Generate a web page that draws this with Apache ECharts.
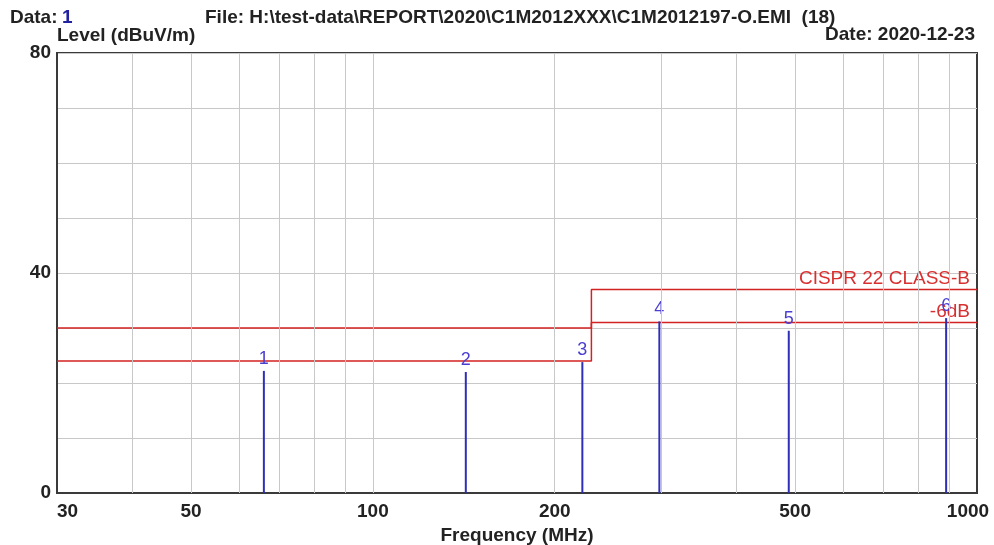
<!DOCTYPE html>
<html>
<head>
<meta charset="utf-8">
<script src="https://cdn.jsdelivr.net/npm/echarts@6/dist/echarts.min.js"></script>
<style>
html, body { margin: 0; padding: 0; background: #fff; }
#main { width: 994px; height: 545px; }
</style>
</head>
<body>
<div id="main"></div>
<script>
// peak markers
var peakFreqs = [66.0, 142.5, 222.2, 298.0, 488.0, 889.0];
var peakLevels = [22.2, 22.0, 23.8, 31.2, 29.5, 31.8];
var peakNames = ['1', '2', '3', '4', '5', '6'];

// CISPR 22 class B limit and the -6dB margin
var limitFreqs = [30, 230, 230, 1000];
var limitLevels = [30, 30, 37, 37];
var marginLevels = [24, 24, 31, 31];

var xTickLabels = [30, 50, 100, 200, 500, 1000];
var xGridFreqs = [40, 50, 60, 70, 80, 90, 100, 200, 300, 400, 500, 600, 700, 800, 900];

var FONT = '"Liberation Sans", Arial, sans-serif';
var textDark = '#222';
var red = '#d42222';
var blue = '#2e2eb8';
var headFont = 'bold 19px ' + FONT;

var myChart = echarts.init(document.getElementById('main'), null, { renderer: 'canvas' });

function limitData(levels, labelText) {
    return limitFreqs.map(function (f, i) {
        var item = { value: [f, levels[i]] };
        if (i === limitFreqs.length - 1) {
            // only the last point carries the text, its symbol stays invisible
            item.symbol = 'circle';
            item.symbolSize = 1;
            item.itemStyle = { color: 'rgba(0,0,0,0)', borderWidth: 0 };
            item.label = {
                show: true,
                formatter: labelText,
                position: 'top',
                align: 'right',
                distance: 1,
                offset: [-7, 0],
                color: '#d83030',
                fontSize: 19,
                fontFamily: FONT
            };
        }
        return item;
    });
}

var option = {
    animation: false,
    backgroundColor: '#fff',
    textStyle: { fontFamily: FONT },
    grid: {
        left: 57, right: 17, top: 53, bottom: 52,
        outerBoundsMode: 'none',
        containLabel: false,
        show: true,
        borderColor: '#3a3a3a',
        borderWidth: 2
    },
    graphic: [
        { type: 'text', left: 10, top: 8, style: { text: 'Data:', font: headFont, fill: textDark } },
        { type: 'text', left: 62, top: 8, style: { text: '1', font: headFont, fill: '#2020a0' } },
        { type: 'text', left: 205, top: 8, style: { text: 'File: H:\\test-data\\REPORT\\2020\\C1M2012XXX\\C1M2012197-O.EMI  (18)', font: headFont, fill: textDark } },
        { type: 'text', left: 57, top: 26, style: { text: 'Level (dBuV/m)', font: headFont, fill: textDark } },
        { type: 'text', right: 19, top: 25, style: { text: 'Date: 2020-12-23', font: headFont, fill: textDark } }
    ],
    xAxis: {
        type: 'log',
        logBase: 10,
        min: 30,
        max: 1000,
        name: 'Frequency (MHz)',
        nameLocation: 'middle',
        nameGap: 28,
        nameTextStyle: { color: textDark, fontSize: 19, fontWeight: 'bold', fontFamily: FONT },
        axisLine: { show: true, lineStyle: { color: '#3a3a3a', width: 2 } },
        axisTick: { show: false },
        splitLine: { show: false },
        axisLabel: {
            customValues: xTickLabels,
            color: textDark,
            fontSize: 19,
            fontWeight: 'bold',
            fontFamily: FONT,
            margin: 9,
            alignMinLabel: 'left',
            showMinLabel: true,
            showMaxLabel: true,
            formatter: function (v) {
                var s = String(Math.round(v));
                return Math.round(v) === 1000 ? '{m|' + s + '}' : s;
            },
            rich: {
                m: { padding: [0, 18, 0, 0], fontSize: 19, fontWeight: 'bold', color: textDark, fontFamily: FONT }
            }
        }
    },
    yAxis: {
        type: 'value',
        min: 0,
        max: 80,
        interval: 10,
        axisLine: { show: true, lineStyle: { color: '#3a3a3a', width: 2 } },
        axisTick: { show: false },
        splitLine: { show: true, lineStyle: { color: '#c8c8c8', width: 1 } },
        axisLabel: {
            color: textDark,
            fontSize: 19,
            fontWeight: 'bold',
            fontFamily: FONT,
            margin: 6,
            formatter: function (v) { return v % 40 === 0 ? String(v) : ''; }
        }
    },
    series: [
        {
            // vertical grid lines of the log axis
            type: 'line',
            data: [],
            silent: true,
            markLine: {
                silent: true,
                symbol: 'none',
                label: { show: false },
                lineStyle: { color: '#c8c8c8', width: 1, type: 'solid' },
                data: xGridFreqs.map(function (f) { return { xAxis: f }; })
            }
        },
        {
            name: 'CISPR 22 CLASS-B',
            type: 'line',
            symbol: 'none',
            lineStyle: { color: red, width: 1.5 },
            data: limitData(limitLevels, 'CISPR 22 CLASS-B'),
            z: 3
        },
        {
            name: '-6dB',
            type: 'line',
            symbol: 'none',
            lineStyle: { color: red, width: 1.5 },
            data: limitData(marginLevels, '-6dB'),
            z: 3
        },
        {
            type: 'custom',
            data: peakFreqs.map(function (f, i) { return [f, peakLevels[i]]; }),
            z: 4,
            renderItem: function (params, api) {
                var top = api.coord([api.value(0), api.value(1)]);
                var base = api.coord([api.value(0), 0]);
                return {
                    type: 'group',
                    children: [
                        {
                            type: 'line',
                            shape: { x1: top[0], y1: top[1], x2: base[0], y2: base[1] },
                            style: { stroke: blue, lineWidth: 2 }
                        },
                        {
                            type: 'text',
                            style: {
                                text: peakNames[params.dataIndex],
                                x: top[0],
                                y: top[1] - 3,
                                align: 'center',
                                verticalAlign: 'bottom',
                                fill: '#4a3fd0',
                                fontSize: 18,
                                fontFamily: FONT
                            }
                        }
                    ]
                };
            }
        }
    ]
};

myChart.setOption(option);
</script>
</body>
</html>
